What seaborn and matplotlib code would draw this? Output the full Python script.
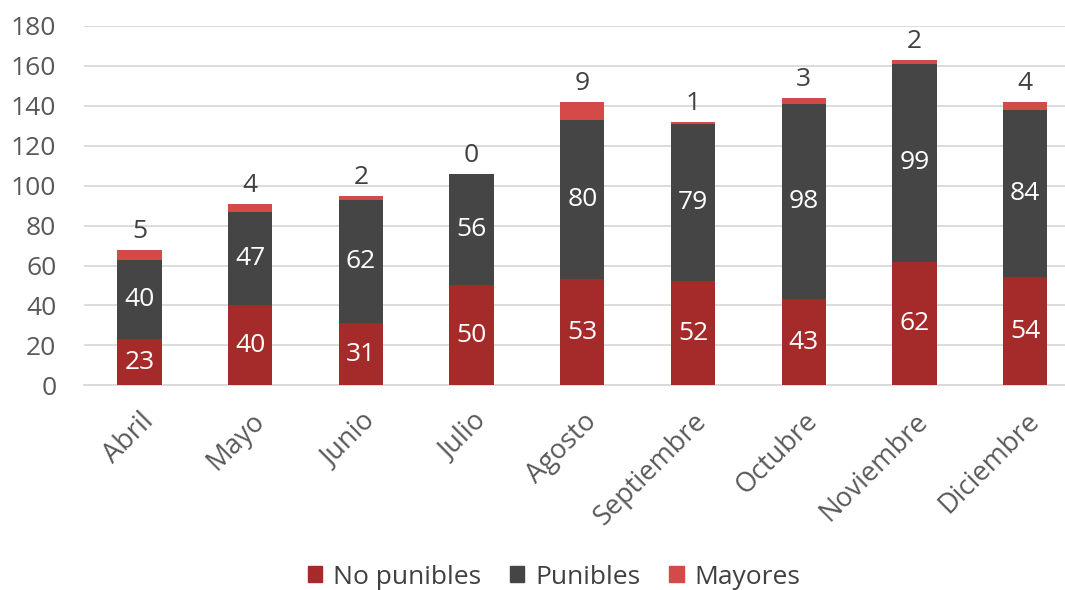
import matplotlib
matplotlib.use('Agg')
import matplotlib.pyplot as plt
import pandas as pd
import seaborn as sns
from matplotlib.patches import Patch

meses = ['Abril', 'Mayo', 'Junio', 'Julio', 'Agosto', 'Septiembre',
         'Octubre', 'Noviembre', 'Diciembre']
no_punibles = [23, 40, 31, 50, 53, 52, 43, 62, 54]
punibles = [40, 47, 62, 56, 80, 79, 98, 99, 84]
mayores = [5, 4, 2, 0, 9, 1, 3, 2, 4]

c_nopun = '#A52A2A'
c_pun = '#454545'
c_may = '#D44A48'

sns.set_style('white')
plt.rcParams['font.family'] = ['Open Sans', 'DejaVu Sans']

df = pd.DataFrame({'mes': meses, 'no_pun': no_punibles, 'pun': punibles, 'may': mayores})
df['base2'] = df['no_pun'] + df['pun']
df['total'] = df['base2'] + df['may']

fs = 19

fig, ax = plt.subplots(figsize=(10.65, 5.9), dpi=100)
fig.subplots_adjust(left=0.079, right=1.0, top=0.956, bottom=0.347)

# stacked by overlaying cumulative totals
kw = dict(x='mes', width=0.4, saturation=1, linewidth=0, ax=ax)
sns.barplot(data=df, y='total', color=c_may, zorder=2, **kw)
sns.barplot(data=df, y='base2', color=c_pun, zorder=3, **kw)
sns.barplot(data=df, y='no_pun', color=c_nopun, zorder=4, **kw)

for i, row in df.iterrows():
    ax.text(i, row['no_pun'] / 2, str(row['no_pun']), ha='center', va='center',
            color='white', fontsize=fs, zorder=5)
    ax.text(i, row['no_pun'] + row['pun'] / 2, str(row['pun']), ha='center', va='center',
            color='white', fontsize=fs, zorder=5)
    ax.text(i, row['total'] + 3, str(row['may']), ha='center', va='bottom',
            color='#404040', fontsize=fs, zorder=5)

ax.set_ylim(0, 180)
ax.set_yticks(range(0, 181, 20))
ax.set_xlim(-0.5, 8.36)
ax.yaxis.grid(True, color='#D9D9D9', linewidth=1.3, zorder=0)
ax.set_axisbelow(True)
for s in ['top', 'right', 'left']:
    ax.spines[s].set_visible(False)
ax.spines['bottom'].set_color('#D9D9D9')
ax.spines['bottom'].set_linewidth(1.3)
ax.tick_params(axis='both', length=0, labelsize=fs, labelcolor='#595959')
ax.tick_params(axis='y', pad=20)
ax.tick_params(axis='x', pad=16, labelsize=19.5)
ax.set_xlabel('')
ax.set_ylabel('')
plt.setp(ax.get_xticklabels(), rotation=45, ha='right', rotation_mode='anchor')

handles = [Patch(color=c_nopun, label='No punibles'),
           Patch(color=c_pun, label='Punibles'),
           Patch(color=c_may, label='Mayores')]
fig.legend(handles=handles, loc='center', bbox_to_anchor=(0.52, 0.022), ncol=3,
           frameon=False, fontsize=fs, handlelength=0.55, handleheight=0.55,
           handletextpad=0.4, columnspacing=1.1, labelcolor='#404040')

fig.savefig('out.png', dpi=100)
